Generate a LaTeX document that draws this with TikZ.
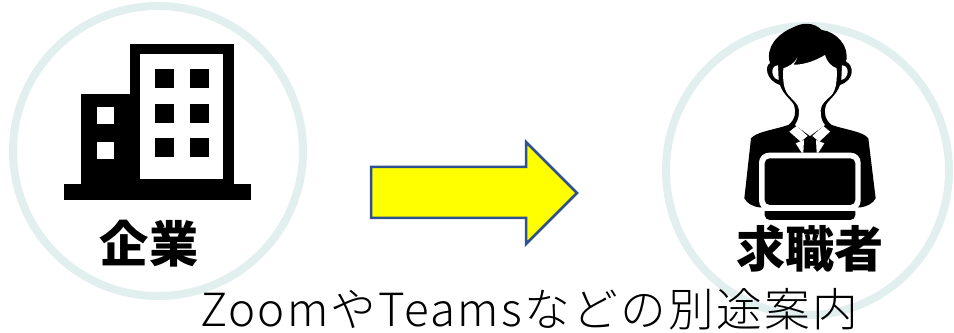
\documentclass[tikz,border=0pt]{standalone}
\usepackage{fontspec}
\newfontfamily\cjkbold{Noto Sans CJK JP Black}
\newfontfamily\cjklight[LetterSpace=5]{Noto Sans CJK JP Light}
\definecolor{ring_teal}{HTML}{E1EFEF}
\definecolor{arrow_blue}{HTML}{2F528F}
\definecolor{arrow_yellow}{HTML}{FFFF00}
\begin{document}
\begin{tikzpicture}[x=0.02cm, y=-0.02cm]
  \tikzstyle{ring} = [draw=ring_teal, line width=0.16cm];
  \tikzstyle{pane} = [inner sep=0pt, minimum width=0.38cm, minimum height=0.38cm];
  \tikzstyle{black_pane} = [pane, fill=black];
  \tikzstyle{white_pane} = [pane, fill=white, minimum width=0.34cm, minimum height=0.34cm];
  \tikzstyle{bold_label} = [inner sep=0pt, font=\cjkbold\fontsize{28}{30}\selectfont];
  \tikzstyle{plain_label} = [inner sep=0pt, font=\cjklight\fontsize{26}{28}\selectfont];

  \useasboundingbox (0, 0) rectangle (954, 333);

  \draw[ring] (158, 151) circle (145);
  \draw[ring] (807.5, 170.5) ellipse (141.5 and 144.5);

  % building
  \fill (64, 184) rectangle (251, 200);
  \fill (81, 94) rectangle (140, 190);
  \fill (130, 44) rectangle (234, 190);
  \fill[white] (140, 54) rectangle (223, 179);

  \node[black_pane] (pane_a) at (164.5, 78.5) {};
  \node[black_pane] (pane_b) at (199.5, 78.5) {};
  \node[black_pane] (pane_c) at (164.5, 113.5) {};
  \node[black_pane] (pane_d) at (199.5, 113.5) {};
  \node[black_pane] (pane_e) at (164.5, 148) {};
  \node[black_pane] (pane_f) at (199.5, 148) {};
  \node[white_pane] (pane_g) at (105.5, 116) {};
  \node[white_pane] (pane_h) at (105.5, 150.5) {};

  \draw[fill=arrow_yellow, draw=arrow_blue, line width=0.05cm]
    (371, 167) -- (526, 167) -- (526, 142) -- (577, 193)
    -- (526, 244) -- (526, 218) -- (371, 218) -- cycle;

  % person, in thirds of a pixel
  \begin{scope}[shift={(650, 0)}, scale=1/3]
    \fill (360, 190) .. controls (345, 140) and (385, 100) .. (430, 82)
      .. controls (455, 68) and (490, 65) .. (515, 90)
      .. controls (560, 95) and (600, 140) .. (588, 185)
      .. controls (612, 195) and (615, 240) .. (570, 255)
      .. controls (560, 285) and (535, 300) .. (528, 315)
      .. controls (520, 335) and (525, 360) .. (545, 375)
      .. controls (590, 390) and (640, 395) .. (655, 415)
      -- (677, 595) .. controls (670, 610) and (650, 620) .. (632, 622)
      -- (327, 622) .. controls (310, 620) and (290, 610) .. (283, 595)
      -- (303, 415) .. controls (320, 395) and (370, 390) .. (415, 375)
      .. controls (435, 360) and (440, 335) .. (432, 315)
      .. controls (425, 300) and (400, 285) .. (390, 255)
      .. controls (345, 240) and (345, 195) .. (360, 190) -- cycle;
    \fill[white] (400, 205) .. controls (415, 200) and (435, 190) .. (442, 172)
      .. controls (440, 180) and (435, 188) .. (430, 194)
      .. controls (465, 195) and (500, 180) .. (525, 165)
      .. controls (530, 185) and (545, 200) .. (560, 205)
      .. controls (562, 240) and (558, 270) .. (545, 285)
      .. controls (530, 300) and (513, 310) .. (512, 330)
      .. controls (512, 350) and (515, 365) .. (525, 375)
      -- (480, 408) -- (435, 375)
      .. controls (445, 360) and (448, 345) .. (447, 330)
      .. controls (445, 310) and (428, 300) .. (415, 285)
      .. controls (400, 265) and (398, 240) .. (400, 205) -- cycle;
    \fill[white] (384, 196) .. controls (360, 196) and (362, 235) .. (386, 240) -- cycle;
    \fill[white] (576, 196) .. controls (600, 196) and (598, 235) .. (574, 240) -- cycle;
    \fill[white] (418, 395) -- (440, 378) -- (473, 408) -- (452, 425) -- cycle;
    \fill[white] (540, 395) -- (520, 378) -- (487, 408) -- (508, 425) -- cycle;
    \fill[white] (437, 430) -- (462, 420) -- (460, 458) -- (455, 458) -- cycle;
    \fill[white] (523, 430) -- (498, 420) -- (500, 458) -- (505, 458) -- cycle;
    \fill[white, rounded corners=0.2cm] (327, 458) rectangle (632, 632);
    \fill[rounded corners=0.1cm] (344, 475) rectangle (616, 615);
    \fill[rounded corners=0.1cm] (344, 620) rectangle (616, 660);
    \fill[white] (340, 615) rectangle (620, 632);
  \end{scope}

  \node[bold_label] (company_label) at (149, 244) {企業};
  \node[bold_label] (seeker_label) at (810, 249) {求職者};
  \node[plain_label] (notice_label) at (529, 309) {ZoomやTeamsなどの別途案内};
\end{tikzpicture}
\end{document}
